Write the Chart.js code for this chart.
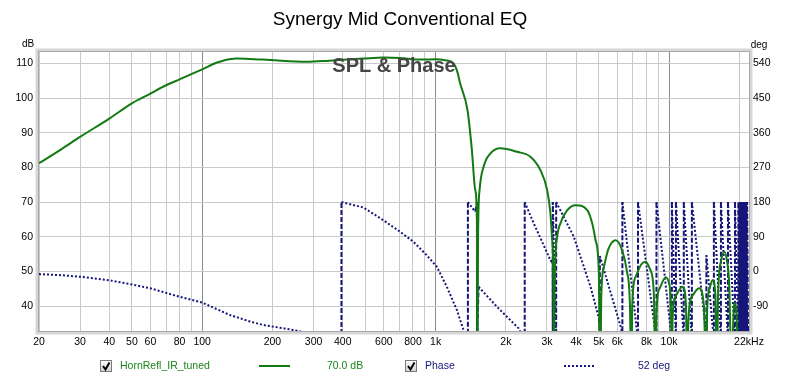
<!DOCTYPE html>
<html><head><meta charset="utf-8">
<script src="https://cdn.jsdelivr.net/npm/chart.js@4/dist/chart.umd.min.js"></script>
<style>html,body{margin:0;padding:0;background:#fff;overflow:hidden}canvas{display:block}</style>
</head><body>
<canvas id="c" width="800" height="379"></canvas>
<script>
const chartTitle = 'Synergy Mid Conventional EQ';
const plotLabel = 'SPL & Phase';
const splName = 'HornRefl_IR_tuned';
const splValueText = '70.0 dB';
const phaseName = 'Phase';
const phaseValueText = '52 deg';

const splFreq = [20,25,30,40,50,60,70,80,100,115,123,140,160,195,280,350,490,600,700,858,1000,1100,1193,1240,1274,1370,1430,1478,1503,1510,1520,1543,1605,1715,1892,2232,2546,2812,3004,3100,3150,3195,3206,3230,3316,3426,3650,3974,4463,4700,4843,5000,5078,5120,5260,5500,5905,6300,6600,6800,6894,6950,7200,7600,7944,8300,8600,8770,8830,9100,9681,10000,10200,10280,10350,10700,11418,11800,12000,12100,12600,13460,14100,14450,14550,14900,15370,15800,16030,16200,16700,17230,17700,18100,18600,18800,19100,19500,19750,19950,22000];
const splDb = [81.2,85.3,88.8,94.1,98.5,101.3,103.7,105.4,108.3,110.2,110.8,111.4,111.3,111.0,110.5,110.8,111.4,111.7,111.6,111.1,111.2,110.9,110.0,107.5,104.2,96.5,85.0,73.5,65.0,15,60,73.5,80.2,84.0,85.5,84.5,83.1,79.2,73.5,67.0,60.0,45,15,45,60.0,63.9,67.5,69.1,67.7,63.5,59.0,50,15,42,51.3,56.5,59.0,56.0,50,40,15,40,48.5,52.0,52.8,50.5,44,15,38,45,48.3,46.5,38,15,36,43,45.6,41,15,36,43,45.1,40,15,38,45,47.5,43,15,42,53,55.7,53,46,15,34,40.9,36,15,10];

const phaseFreq = [20,25,30,40,50,60,80,100,131,160,182,245,300,350,394,395,490,597,704,803,916,1012,1117,1233,1309,1374,1375,1478,1503,1504,1528,1832,2268,2407,2408,2631,3104,3170,3176,3177,3280,3284,3908,4610,5006,5040,5052,6250,6309,6310,7360,7362,8830,8832,10280,10282,10700,10702,11560,11564,12520,12524,14400,14450,15550,15560,16670,16680,17870,17880,19150,19160,19800,19802,20000,20002,20200,20202,20400,20402,20600,20602,20800,20802,21000,21002,21200,21202,21400,21402,21600,21602,21800,21802,22000];
const phaseDeg = [-7,-10,-14,-23,-34,-44,-66,-81,-113,-130,-139,-152,-163,-172,-180,180,166,133,103,77,42,12,-40,-100,-148,-180,180,155,180,-180,-40,-92,-148,-180,180,125,29,22,-180,180,-180,180,90,-40,-122,-150,40,-150,-180,180,-180,180,-180,180,-180,180,-180,180,-180,180,-180,180,-160,42,-180,180,-180,180,-180,180,-180,180,-180,180,-180,180,-180,180,-180,180,-180,180,-180,180,-180,180,-180,180,-180,180,-180,180,-180];

const xGridValues = [20,30,40,50,60,70,80,90,100,200,300,400,500,600,700,800,900,1000,2000,3000,4000,5000,6000,7000,8000,9000,10000,20000,22000];
const xTickLabels = {20:'20',30:'30',40:'40',50:'50',60:'60',80:'80',100:'100',200:'200',300:'300',400:'400',600:'600',800:'800',1000:'1k',2000:'2k',3000:'3k',4000:'4k',5000:'5k',6000:'6k',8000:'8k',10000:'10k',22000:'22kHz'};
const dbTicks = [40,50,60,70,80,90,100,110];
const degTicks = [-90,0,90,180,270,360,450,540];

const GREEN = '#137a13';
const NAVY = '#16167a';
const FONT = '"Liberation Sans", Arial, sans-serif';

const splData = splFreq.map((f,i)=>({x:f,y:splDb[i]}));
const phaseData = phaseFreq.map((f,i)=>({x:f,y:phaseDeg[i]}));

const extras = {
  id:'extras',
  afterDraw(chart){
    const c = chart.ctx, a = chart.chartArea;
    c.save();
    // bevel frame
    c.strokeStyle = '#d6d6d6'; c.lineWidth = 3;
    c.strokeRect(a.left-2, a.top-2, a.right-a.left+4, a.bottom-a.top+4);
    c.strokeStyle = '#a9a9a9'; c.lineWidth = 1;
    c.strokeRect(a.left-0.5, a.top-0.5, a.right-a.left+1, a.bottom-a.top+1);
    // plot label
    c.font = 'bold 20px ' + FONT; c.fillStyle = '#454545';
    c.textAlign = 'center'; c.textBaseline = 'middle';
    c.fillText(plotLabel, 394, 66);
    // axis unit labels
    c.font = '10px ' + FONT; c.fillStyle = '#000';
    c.fillText('dB', 28, 44);
    c.fillText('deg', 759, 45);
    // legend
    const drawCheck = (x,y)=>{
      const g = c.createLinearGradient(x,y,x,y+12);
      g.addColorStop(0,'#ffffff'); g.addColorStop(1,'#cfcfcf');
      c.fillStyle = g; c.fillRect(x,y,12,12);
      c.strokeStyle = '#7a7a7a'; c.lineWidth = 1; c.strokeRect(x+0.5,y+0.5,11,11);
      c.strokeStyle = '#000'; c.lineWidth = 2;
      c.beginPath(); c.moveTo(x+3,y+6); c.lineTo(x+5.5,y+9.5); c.lineTo(x+9.5,y+2.5); c.stroke();
    };
    drawCheck(100,360);
    drawCheck(405,360);
    c.textAlign = 'left'; c.textBaseline = 'middle';
    c.font = '10.5px ' + FONT;
    c.fillStyle = '#1a861a';
    c.fillText(splName, 120, 366);
    c.fillText(splValueText, 327, 366);
    c.fillStyle = NAVY;
    c.fillText(phaseName, 425, 366);
    c.fillText(phaseValueText, 638, 366);
    c.strokeStyle = GREEN; c.lineWidth = 2; c.setLineDash([]);
    c.beginPath(); c.moveTo(259,366); c.lineTo(290,366); c.stroke();
    c.strokeStyle = NAVY; c.setLineDash([2,2]);
    c.beginPath(); c.moveTo(564,366); c.lineTo(594,366); c.stroke();
    c.restore();
  }
};

new Chart(document.getElementById('c'), {
  type:'line',
  data:{datasets:[
    {label:splName, data:splData, yAxisID:'yL', borderColor:GREEN, borderWidth:2, pointRadius:0, cubicInterpolationMode:'monotone', clip:0},
    {label:phaseName, data:phaseData, yAxisID:'yR', borderColor:NAVY, borderWidth:2, pointRadius:0, tension:0, clip:0,
      segment:{borderDash: ctx => Math.abs(ctx.p1.x-ctx.p0.x) < 3 ? [5,2] : [2,2]}}
  ]},
  plugins:[extras],
  options:{
    responsive:false, animation:false, devicePixelRatio:1,
    layout:{padding:{top:0,left:0,right:0,bottom:0}},
    plugins:{
      legend:{display:false}, tooltip:{enabled:false},
      title:{display:true, text:chartTitle, color:'#000', font:{family:FONT, size:19, weight:'normal'}, padding:{top:8,bottom:21.2}}
    },
    scales:{
      x:{type:'logarithmic', min:20, max:22000,
        afterBuildTicks: s => { s.ticks = xGridValues.map(v=>({value:v})); },
        afterFit: s => { s.height = 48; },
        ticks:{autoSkip:false, maxRotation:0, padding:5, color:'#000', font:{family:FONT,size:10.5},
          callback:(v)=> xTickLabels[v] || ''},
        grid:{drawTicks:false, color: ctx => ([100,1000,10000].includes(ctx.tick && ctx.tick.value) ? '#8c8c8c' : '#c9c9c9')},
        border:{display:false}
      },
      yL:{type:'linear', position:'left', min:32.8, max:113.3,
        afterBuildTicks: s => { s.ticks = dbTicks.map(v=>({value:v})); },
        afterFit: s => { s.width = 39; },
        ticks:{padding:6, color:'#000', font:{family:FONT,size:10.5}},
        grid:{drawTicks:false, color:'#c9c9c9'}, border:{display:false}
      },
      yR:{type:'linear', position:'right', min:-154.8, max:569.7,
        afterBuildTicks: s => { s.ticks = degTicks.map(v=>({value:v})); },
        afterFit: s => { s.width = 51; },
        ticks:{padding:4, color:'#000', font:{family:FONT,size:10.5}},
        grid:{display:false, drawTicks:false}, border:{display:false}
      }
    }
  }
});
</script>
</body></html>
